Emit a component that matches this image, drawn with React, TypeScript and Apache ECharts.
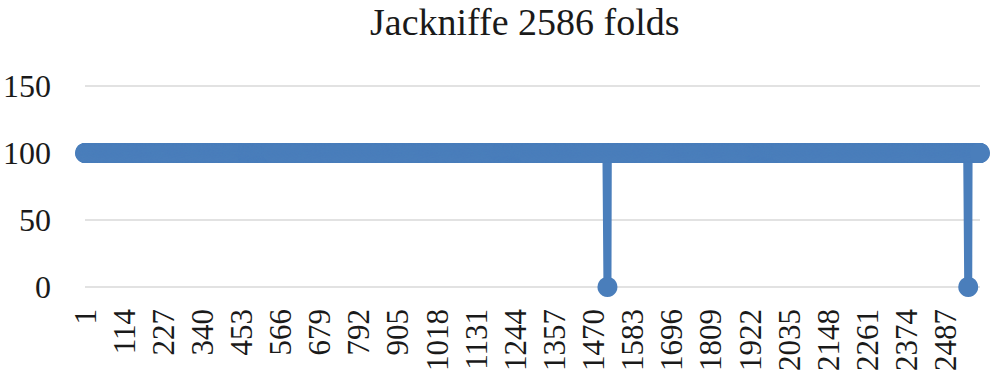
import React, { useEffect, useRef } from "react";
import * as echarts from "echarts";

const titleText = "Jackniffe 2586 folds";
const foldCount = 2586;
// fold numbers (category labels) 1..2586
const folds: string[] = Array.from({ length: foldCount }, (_, i) => String(i + 1));
// accuracy: 100 everywhere except two folds that drop to 0
const baseValue = 100;
const dropFolds = [1510, 2552];
const dropValue = 0;
const values: number[] = folds.map((f) => (dropFolds.includes(Number(f)) ? dropValue : baseValue));
const yTicks = { min: 0, max: 150, interval: 50 };

const FONT = "'Liberation Serif', 'Times New Roman', serif";
const BLUE = "#4a7ebb";

export default function App() {
  const ref = useRef<HTMLDivElement>(null);
  useEffect(() => {
    document.body.style.margin = "0";
    const chart = echarts.init(ref.current!, null, { renderer: "svg" });
    chart.setOption({
      animation: false,
      title: {
        text: titleText,
        left: 370,
        top: 3,
        padding: 0,
        textStyle: {
          fontFamily: FONT,
          fontSize: 38,
          fontWeight: "normal",
          color: "#1a1a1a",
        },
      },
      grid: { left: 83, right: 13, top: 86, bottom: 91, containLabel: false },
      xAxis: {
        type: "category",
        data: folds,
        boundaryGap: false,
        axisLine: { show: false },
        axisTick: { show: false },
        splitLine: { show: false },
        axisLabel: {
          interval: 112,
          rotate: 90,
          margin: 22,
          fontFamily: FONT,
          fontSize: 31,
          color: "#1a1a1a",
        },
      },
      yAxis: {
        type: "value",
        min: yTicks.min,
        max: yTicks.max,
        interval: yTicks.interval,
        axisLine: { show: false },
        axisTick: { show: false },
        splitLine: { lineStyle: { color: "#d9d9d9", width: 1.5 } },
        axisLabel: { margin: 34, fontFamily: FONT, fontSize: 32, color: "#1a1a1a" },
      },
      series: [
        {
          type: "line",
          data: values,
          showAllSymbol: true,
          symbol: "circle",
          symbolSize: 20,
          lineStyle: { color: BLUE, width: 8 },
          itemStyle: { color: BLUE },
        },
      ],
    });
    return () => chart.dispose();
  }, []);
  return (
    <div
      ref={ref}
      style={{ position: "absolute", left: 0, top: 0, width: 993, height: 378 }}
    />
  );
}
